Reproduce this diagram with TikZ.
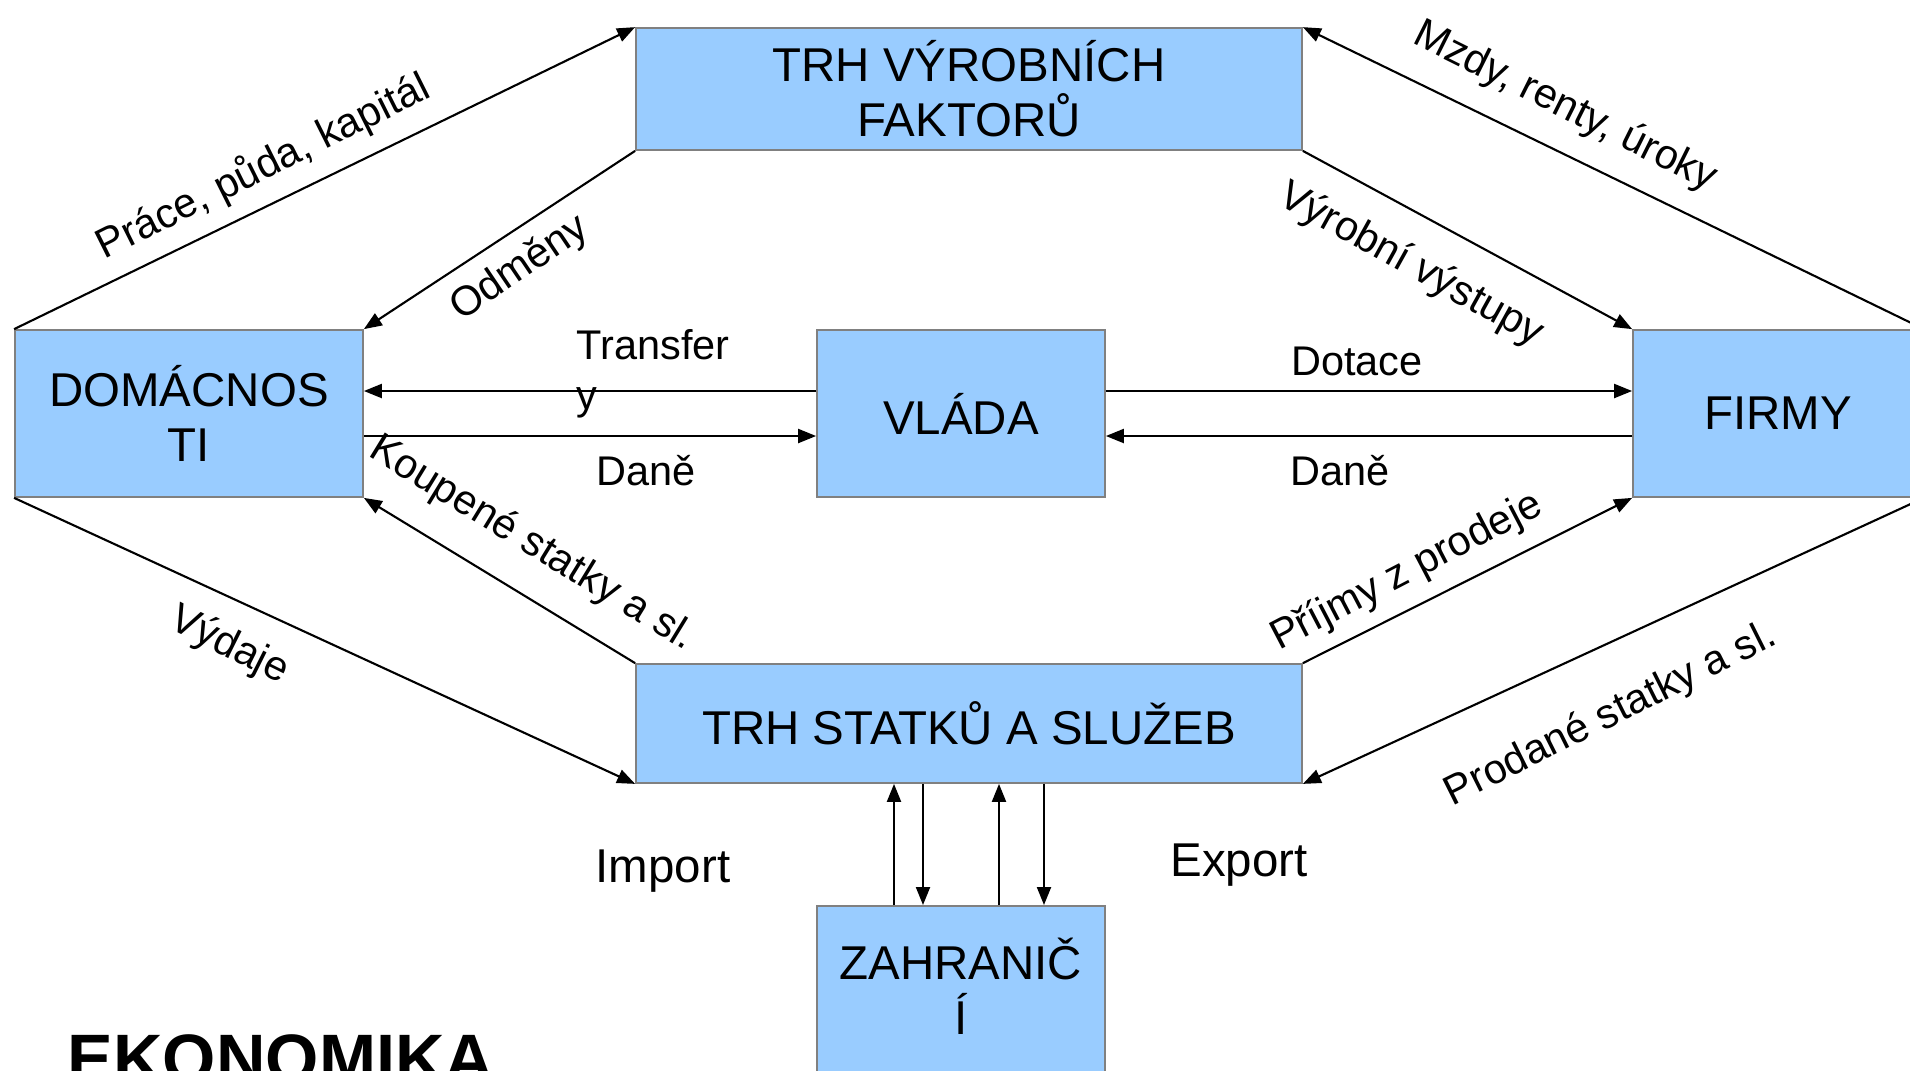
\documentclass[tikz,border=0pt]{standalone}
\usepackage{fontspec}
\setmainfont{Liberation Sans}
\usetikzlibrary{arrows.meta}
\definecolor{myboxcolor}{HTML}{99CCFF}
\definecolor{myedgecolor}{HTML}{808080}
\tikzset{
  mybox/.style={draw=myedgecolor, line width=0.5pt, fill=myboxcolor, rectangle, align=center, inner sep=0pt, font=\fontsize{13.5pt}{15.6pt}\selectfont},
  mytext/.style={align=center, inner sep=0pt, font=\fontsize{13.5pt}{15.6pt}\selectfont},
  mylabel/.style={align=left, inner sep=0pt, font=\fontsize{11.8pt}{14.2pt}\selectfont},
  myflow/.style={draw, line width=0.6pt, -{Triangle[length=0.18cm, width=0.14cm]}},
}

\begin{document}
\begin{tikzpicture}%
\useasboundingbox (0,0) rectangle (19.1,-10.7);%
% boxes
\node[mybox, minimum width=6.66cm, minimum height=1.22cm] (trhf) at (9.69,-0.89) {TRH VÝROBNÍCH\\FAKTORŮ};%
\node[mybox, minimum width=3.48cm, minimum height=1.67cm] (dom) at (1.89,-4.135) {DOMÁCNOS\\TI};%
\node[mybox, minimum width=2.88cm, minimum height=1.67cm] (vlada) at (9.61,-4.135) {VLÁDA};%
\node[mybox, minimum width=2.90cm, minimum height=1.67cm] (firmy) at (17.78,-4.135) {FIRMY};%
\node[mybox, minimum width=6.66cm, minimum height=1.19cm] (trhs) at (9.69,-7.235) {TRH STATKŮ A SLUŽEB};%
\node[mybox, minimum width=2.88cm, minimum height=2.4cm, anchor=north] (zahr) at (9.61,-9.05) {};%
\node[mytext] (zahrtext) at (9.61,-9.86) {ZAHRANIČ\\Í};%
% flows
\draw[myflow] (dom.north west) -- (trhf.north west);%
\draw[myflow] (trhf.south west) -- (dom.north east);%
\draw[myflow] (firmy.north east) -- (trhf.north east);%
\draw[myflow] (trhf.south east) -- (firmy.north west);%
\draw[myflow] ([yshift=0.225cm]vlada.west) -- ([yshift=0.225cm]dom.east);%
\draw[myflow] ([yshift=-0.225cm]dom.east) -- ([yshift=-0.225cm]vlada.west);%
\draw[myflow] ([yshift=0.225cm]vlada.east) -- ([yshift=0.225cm]firmy.west);%
\draw[myflow] ([yshift=-0.225cm]firmy.west) -- ([yshift=-0.225cm]vlada.east);%
\draw[myflow] (trhs.north west) -- (dom.south east);%
\draw[myflow] (dom.south west) -- (trhs.south west);%
\draw[myflow] (trhs.north east) -- (firmy.south west);%
\draw[myflow] (firmy.south east) -- (trhs.south east);%
\coordinate (imp1) at (8.94,0);%
\coordinate (imp2) at (9.23,0);%
\coordinate (exp1) at (9.99,0);%
\coordinate (exp2) at (10.44,0);%
\draw[myflow] (zahr.north -| imp1) -- (trhs.south -| imp1);%
\draw[myflow] (trhs.south -| imp2) -- (zahr.north -| imp2);%
\draw[myflow] (zahr.north -| exp1) -- (trhs.south -| exp1);%
\draw[myflow] (trhs.south -| exp2) -- (zahr.north -| exp2);%
% labels
\node[mylabel, rotate=26.5] (prace) at (2.63,-1.67) {Práce, půda, kapitál};%
\node[mylabel, rotate=34] (odmeny) at (5.20,-2.69) {Odměny};%
\node[mylabel, rotate=-26.5] (mzdy) at (15.65,-1.07) {Mzdy, renty, úroky};%
\node[mylabel, rotate=-29] (vystupy) at (14.11,-2.65) {Výrobní výstupy};%
\node[mylabel, anchor=north west] (transfery) at (5.76,-3.29) {Transfer\\y};%
\node[mylabel] (dane1) at (6.46,-4.71) {Daně};%
\node[mylabel] (dotace) at (13.57,-3.61) {Dotace};%
\node[mylabel] (dane2) at (13.40,-4.71) {Daně};%
\node[mylabel, rotate=-31.5] (koupene) at (5.32,-5.44) {Koupené statky a sl.};%
\node[mylabel, rotate=-26.5] (vydaje) at (2.29,-6.46) {Výdaje};%
\node[mylabel, rotate=27.5] (prijmy) at (14.07,-5.72) {Příjmy z prodeje};%
\node[mylabel, rotate=26.5] (prodane) at (16.11,-7.15) {Prodané statky a sl.};%
\node[mytext] (import) at (6.63,-8.71) {Import};%
\node[mytext] (export) at (12.39,-8.65) {Export};%
\node[anchor=base west, inner sep=0pt, font=\fontsize{19.5pt}{22pt}\selectfont\bfseries] (ekonomika) at (0.67,-10.82) {EKONOMIKA};%
\end{tikzpicture}
\end{document}
